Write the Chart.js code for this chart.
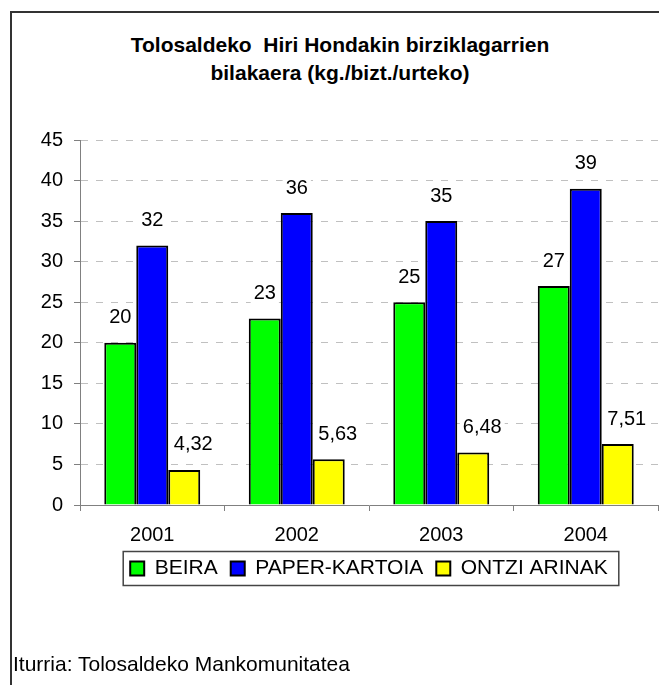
<!DOCTYPE html>
<html>
<head>
<meta charset="utf-8">
<script src="https://cdn.jsdelivr.net/npm/chart.js@4/dist/chart.umd.min.js"></script>
<style>
  body { margin: 0; width: 659px; height: 685px; overflow: hidden; position: relative; background: #fff; font-family: "Liberation Sans", Arial, sans-serif; }
  #frame { position: absolute; left: 10px; top: 11px; width: 720px; height: 720px; border: 2px solid #333; box-sizing: border-box; }
  #title { position: absolute; left: 60px; width: 560px; top: 31px; text-align: center; font-weight: bold; font-size: 21px; line-height: 28px; color: #000; }
  #source { position: absolute; left: 13px; top: 652px; font-size: 21px; line-height: 24px; color: #000; }
  #chart { position: absolute; left: 0; top: 0; }
</style>
</head>
<body>
<div id="frame"></div>
<div id="title">Tolosaldeko&nbsp; Hiri Hondakin birziklagarrien<br>bilakaera (kg./bizt./urteko)</div>
<canvas id="chart" width="659" height="685"></canvas>
<div id="source">Iturria: Tolosaldeko Mankomunitatea</div>
<script>
const years = ['2001', '2002', '2003', '2004'];
const beira = [20, 23, 25, 27];
const paperKartoia = [32, 36, 35, 39];
const ontziArinak = [4.32, 5.63, 6.48, 7.51];
const seriesNames = ['BEIRA', 'PAPER-KARTOIA', 'ONTZI ARINAK'];
const yMin = 0, yMax = 45, yStep = 5;

const FONT = '"Liberation Sans", Arial, sans-serif';
const ctx = document.querySelector('#chart');

// value labels over each bar, white box behind like the excel one
const labelShift = [0, 0, 9];
const valueLabels = {
    id: 'valueLabels',
    afterDatasetsDraw(chart) {
        const c = chart.ctx;
        c.save();
        c.font = '20px ' + FONT;
        c.textAlign = 'center';
        c.textBaseline = 'middle';
        chart.data.datasets.forEach((ds, i) => {
            chart.getDatasetMeta(i).data.forEach((bar, j) => {
                let txt = String(ds.data[j]).replace('.', ',');
                let x = bar.x + labelShift[i];
                let y = bar.y - 25;
                let w = c.measureText(txt).width;
                c.fillStyle = '#fff';
                c.fillRect(x - w / 2 - 3, y - 12, w + 6, 24);
                c.fillStyle = '#000';
                c.fillText(txt, x, y);
            });
        });
        c.restore();
    }
};

// box round the legend
const legendBox = {
    id: 'legendBox',
    afterDraw(chart) {
        const lg = chart.legend;
        if (!lg || !lg.legendHitBoxes.length) return;
        let hb = lg.legendHitBoxes;
        let left = hb[0].left, right = hb[hb.length - 1].left + hb[hb.length - 1].width;
        let cy = hb[0].top + hb[0].height / 2;
        const c = chart.ctx;
        c.save();
        c.strokeStyle = '#444';
        c.lineWidth = 1.5;
        c.strokeRect(left - 7, cy - 17, right - left + 18, 34);
        c.restore();
    }
};

new Chart(ctx, {
    type: 'bar',
    data: {
        labels: years,
        datasets: [{
            label: seriesNames[0],
            data: beira,
            backgroundColor: '#00ff00',
            borderColor: '#000',
            borderWidth: 2
        }, {
            label: seriesNames[1],
            data: paperKartoia,
            backgroundColor: '#0000ff',
            borderColor: '#000',
            borderWidth: 2
        }, {
            label: seriesNames[2],
            data: ontziArinak,
            backgroundColor: '#ffff00',
            borderColor: '#000',
            borderWidth: 2
        }]
    },
    options: {
        responsive: false,
        animation: false,
        devicePixelRatio: 1,
        categoryPercentage: 0.664,
        barPercentage: 1,
        layout: { padding: { left: 0, top: 140, right: 1, bottom: 96 } },
        plugins: {
            title: { display: false },
            tooltip: { enabled: false },
            legend: {
                position: 'bottom',
                fullSize: false,
                labels: {
                    color: '#000',
                    font: { family: FONT, size: 21 },
                    boxWidth: 14,
                    boxHeight: 14,
                    padding: 13
                }
            }
        },
        scales: {
            x: {
                grid: { drawOnChartArea: false, drawTicks: true, tickLength: 6, color: '#808080', offset: true },
                border: { color: '#808080', width: 1 },
                ticks: { color: '#000', font: { family: FONT, size: 20 }, padding: 12 },
                afterFit(s) { s.height = 40; }
            },
            y: {
                min: yMin,
                max: yMax,
                ticks: { stepSize: yStep, color: '#000', font: { family: FONT, size: 20 }, padding: 11 },
                grid: {
                    color: (c) => c.tick && c.tick.value === 0 ? 'rgba(0,0,0,0)' : '#c0c0c0',
                    tickColor: '#808080',
                    tickLength: 6
                },
                border: { color: '#808080', width: 1, dash: [7, 8] },
                afterFit(s) { s.width = 80; }
            }
        }
    },
    plugins: [valueLabels, legendBox]
});
</script>
</body>
</html>
